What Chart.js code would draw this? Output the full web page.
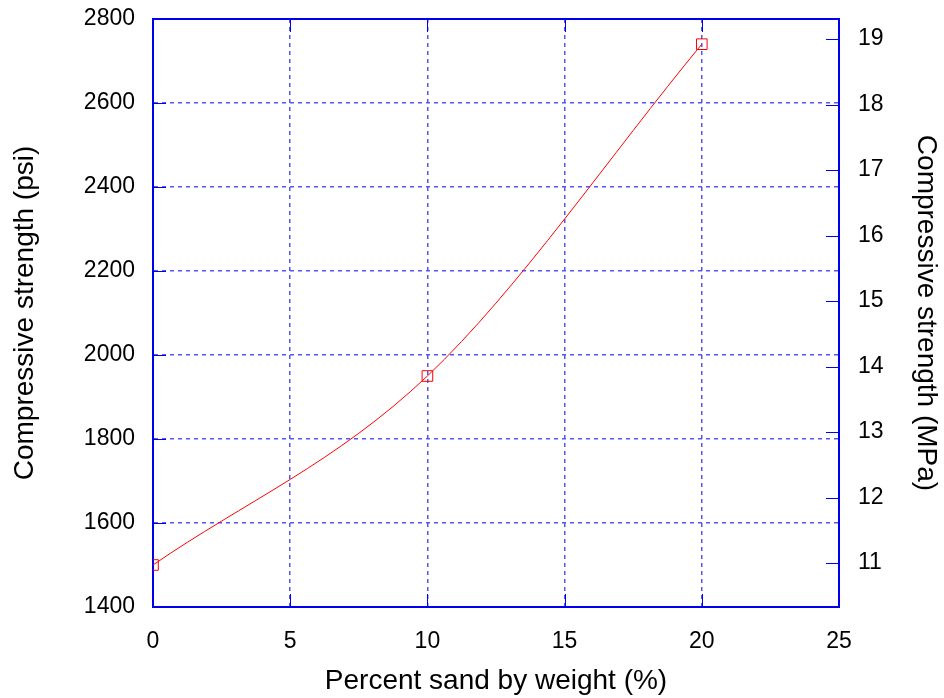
<!DOCTYPE html>
<html><head><meta charset="utf-8">
<script src="https://cdn.jsdelivr.net/npm/chart.js@4/dist/chart.umd.min.js"></script>
<style>html,body{margin:0;padding:0;background:#fff}#wrap{width:944px;height:698px}</style>
</head><body><div id="wrap"><canvas id="c" width="944" height="698"></canvas></div>
<script>
const sandPercent = [0, 10, 20];
const strengthPsi = [1500, 1950, 2740];
const xTicks = [0, 5, 10, 15, 20, 25];
const psiTicks = [1400, 1600, 1800, 2000, 2200, 2400, 2600, 2800];
const mpaTicks = [11, 12, 13, 14, 15, 16, 17, 18, 19];
const mpaRange = [10.33, 19.306];

const FONT = "'Liberation Sans', Arial, sans-serif";
const GRID = '#5555f2';
const FRAME = '#0000ee';

const innerTicks = {
  id: 'innerTicks',
  beforeDatasetsDraw(chart) {
    const {ctx, chartArea: a, scales} = chart;
    const L = 13;
    ctx.save();
    ctx.strokeStyle = FRAME;
    ctx.lineWidth = 1;
    ctx.beginPath();
    for (const v of psiTicks) {
      const y = Math.round(scales.y.getPixelForValue(v)) + 0.5;
      ctx.moveTo(a.left, y); ctx.lineTo(a.left + L, y);
    }
    for (const v of mpaTicks) {
      const y = Math.round(scales.y1.getPixelForValue(v)) + 0.5;
      ctx.moveTo(a.right - L, y); ctx.lineTo(a.right, y);
    }
    for (const v of xTicks) {
      const x = Math.round(scales.x.getPixelForValue(v)) + 0.5;
      ctx.moveTo(x, a.bottom); ctx.lineTo(x, a.bottom - L);
      ctx.moveTo(x, a.top); ctx.lineTo(x, a.top + L);
    }
    ctx.stroke();
    ctx.lineWidth = 2;
    ctx.strokeRect(a.left, a.top, a.right - a.left, a.bottom - a.top);
    ctx.restore();
  }
};

const plain = v => String(v);
const fitV = w => s => { s.width = w; s.paddingTop = 0; s.paddingBottom = 0; };

new Chart(document.getElementById('c'), {
  type: 'line',
  data: {
    datasets: [{
      data: sandPercent.map((x, i) => ({x, y: strengthPsi[i]})),
      borderColor: '#ff0000',
      borderWidth: 1,
      backgroundColor: 'rgba(0,0,0,0)',
      pointStyle: 'rect',
      pointRadius: 7.5,
      pointBorderWidth: 1,
      pointBorderColor: '#ff0000',
      pointBackgroundColor: 'rgba(0,0,0,0)',
      cubicInterpolationMode: 'monotone',
      yAxisID: 'y'
    }]
  },
  options: {
    responsive: false,
    animation: false,
    layout: {padding: {top: 19, left: 0, right: 0, bottom: 0}},
    plugins: {legend: {display: false}, tooltip: {enabled: false}},
    scales: {
      x: {
        type: 'linear', position: 'bottom', min: 0, max: 25,
        afterBuildTicks: s => { s.ticks = xTicks.map(v => ({value: v})); },
        afterFit: s => { s.height = 91; s.paddingLeft = 0; s.paddingRight = 0; },
        ticks: {font: {family: FONT, size: 23}, color: '#000', padding: 21, maxRotation: 0, callback: plain},
        grid: {color: GRID, lineWidth: 1.5, drawTicks: false},
        border: {display: true, color: FRAME, width: 2, dash: [4, 4]},
        title: {display: true, text: 'Percent sand by weight (%)', font: {family: FONT, size: 28}, color: '#000', padding: {top: 0, bottom: 0}}
      },
      y: {
        type: 'linear', position: 'left', min: 1400, max: 2800,
        afterBuildTicks: s => { s.ticks = psiTicks.map(v => ({value: v})); },
        afterFit: fitV(153),
        ticks: {font: {family: FONT, size: 23}, color: '#000', padding: 18, callback: plain},
        grid: {color: GRID, lineWidth: 1.5, drawTicks: false},
        border: {display: true, color: FRAME, width: 2, dash: [4, 4]},
        title: {display: true, text: 'Compressive strength (psi)', font: {family: FONT, size: 28}, color: '#000', padding: {top: 8, bottom: 0}}
      },
      y1: {
        type: 'linear', position: 'right', min: mpaRange[0], max: mpaRange[1],
        afterBuildTicks: s => { s.ticks = mpaTicks.map(v => ({value: v})); },
        afterFit: fitV(105),
        ticks: {font: {family: FONT, size: 23}, color: '#000', padding: 19, callback: plain},
        grid: {drawOnChartArea: false, drawTicks: false},
        border: {display: true, color: FRAME, width: 2},
        title: {display: true, text: 'Compressive strength (MPa)', font: {family: FONT, size: 28}, color: '#000', padding: {top: 1, bottom: 0}}
      }
    }
  },
  plugins: [innerTicks]
});
</script>
</body></html>
